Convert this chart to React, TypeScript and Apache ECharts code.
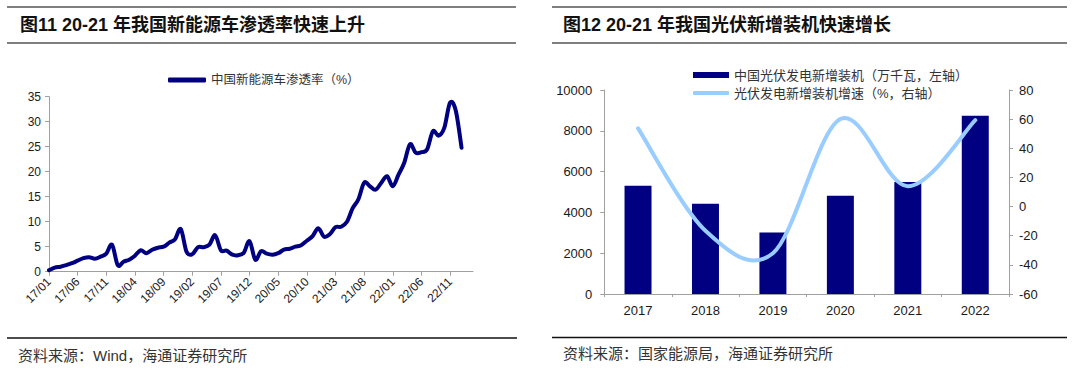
import React, { useEffect, useRef } from "react";
import * as echarts from "echarts";

const months = [
  "17/01","17/02","17/03","17/04","17/05","17/06","17/07","17/08","17/09","17/10","17/11","17/12",
  "18/01","18/02","18/03","18/04","18/05","18/06","18/07","18/08","18/09","18/10","18/11","18/12",
  "19/01","19/02","19/03","19/04","19/05","19/06","19/07","19/08","19/09","19/10","19/11","19/12",
  "20/01","20/02","20/03","20/04","20/05","20/06","20/07","20/08","20/09","20/10","20/11","20/12",
  "21/01","21/02","21/03","21/04","21/05","21/06","21/07","21/08","21/09","21/10","21/11","21/12",
  "22/01","22/02","22/03","22/04","22/05","22/06","22/07","22/08","22/09","22/10","22/11","22/12",
  "23/01","23/02","23/03"
];

const nevPenetration = [
  0.3, 0.8, 1.0, 1.3, 1.7, 2.2, 2.7, 2.9, 2.6, 3.0, 3.6, 5.4,
  1.3, 2.0, 2.4, 3.2, 4.3, 3.7, 4.4, 4.8, 5.0, 5.8, 6.5, 8.5,
  4.0, 3.5, 4.9, 4.9, 5.4, 7.3, 4.3, 4.2, 3.4, 3.3, 3.8, 6.1,
  2.4, 4.1, 3.6, 3.4, 3.7, 4.4, 4.6, 5.0, 5.3, 6.2, 7.1, 8.7,
  7.0, 7.5, 8.9, 9.0, 10.0, 12.7, 14.5, 17.8, 17.1, 16.4, 17.8, 19.1,
  17.1, 19.4, 21.8, 25.5, 23.8, 23.9, 24.5, 28.1, 27.2, 28.8, 33.8, 32.2,
  24.8, null, null
];

const pvYears = ["2017", "2018", "2019", "2020", "2021", "2022"];
const pvInstalled = [5306, 4426, 3011, 4820, 5488, 8741];
const pvGrowth = [53.6, -16.6, -32.0, 60.1, 13.9, 59.3];

const leftTitle = "图11 20-21 年我国新能源车渗透率快速上升";
const rightTitle = "图12 20-21 年我国光伏新增装机快速增长";
const leftSource = "资料来源：Wind，海通证券研究所";
const rightSource = "资料来源：国家能源局，海通证券研究所";
const nevName = "中国新能源车渗透率（%）";
const pvBarName = "中国光伏发电新增装机（万千瓦，左轴）";
const pvLineName = "光伏发电新增装机增速（%，右轴）";

const NAVY = "#000080";
const LIGHT = "#99ccff";
const AXIS = "#a0a0a0";
const LABEL = "#1a1a1a";
const NUM_FONT = "'Liberation Sans', Arial, 'Noto Sans CJK SC', sans-serif";
const CJK_FONT = "'Liberation Sans', 'Noto Sans CJK SC', sans-serif";

// Catmull-Rom style smoothing (like spreadsheet smoothed lines), through pixel points from the axis scales
function smoothPath(pts: number[][]): string {
  if (!pts.length) return "";
  let d = `M${pts[0][0]},${pts[0][1]}`;
  for (let i = 0; i < pts.length - 1; i++) {
    const p0 = pts[i - 1] || pts[i];
    const p1 = pts[i];
    const p2 = pts[i + 1];
    const p3 = pts[i + 2] || pts[i + 1];
    const c1x = p1[0] + (p2[0] - p0[0]) / 6;
    const c1y = p1[1] + (p2[1] - p0[1]) / 6;
    const c2x = p2[0] - (p3[0] - p1[0]) / 6;
    const c2y = p2[1] - (p3[1] - p1[1]) / 6;
    d += ` C${c1x},${c1y} ${c2x},${c2y} ${p2[0]},${p2[1]}`;
  }
  return d;
}

function makeRender(values: (number | null)[], color: string) {
  return (params: any, api: any) => {
    if (params.dataIndex !== 0) return null;
    const pts: number[][] = [];
    values.forEach((v, i) => {
      if (v !== null && v !== undefined) pts.push(api.coord([i, v]));
    });
    return {
      type: "path",
      shape: { pathData: smoothPath(pts) },
      style: { stroke: color, lineWidth: 4, fill: "none", lineCap: "round", lineJoin: "round" },
    };
  };
}

export default function App() {
  const ref = useRef<HTMLDivElement>(null);

  useEffect(() => {
    document.body.style.margin = "0";
    if (!ref.current) return;
    const chart = echarts.init(ref.current, undefined, { renderer: "svg" });

    const axisLine = { show: true, lineStyle: { color: AXIS, width: 1 } };
    const axisTick = { show: true, inside: false, length: 4, lineStyle: { color: AXIS } };

    chart.setOption({
      animation: false,
      backgroundColor: "#ffffff",
      legend: [
        {
          data: [{ name: nevName, icon: "roundRect", itemStyle: { color: NAVY } }],
          left: 163,
          top: 68,
          itemWidth: 38,
          itemHeight: 5,
          textStyle: { fontSize: 12.5, color: "#333", fontFamily: CJK_FONT, lineHeight: 14 },
        },
        {
          data: [{ name: pvBarName, icon: "rect" }],
          left: 688,
          top: 63,
          itemWidth: 36,
          itemHeight: 6,
          textStyle: { fontSize: 13, color: "#333", fontFamily: CJK_FONT, lineHeight: 14 },
        },
        {
          data: [{ name: pvLineName, icon: "roundRect", itemStyle: { color: LIGHT } }],
          left: 688,
          top: 81,
          itemWidth: 36,
          itemHeight: 4,
          textStyle: { fontSize: 13, color: "#333", fontFamily: CJK_FONT, lineHeight: 14 },
        },
      ],
      grid: [
        { left: 49, top: 96.7, width: 424, height: 175, containLabel: false },
        { left: 604.3, top: 90, width: 404.7, height: 204, containLabel: false },
      ],
      xAxis: [
        {
          type: "category",
          gridIndex: 0,
          data: months,
          boundaryGap: false,
          axisLine,
          axisTick: { ...axisTick, interval: 4 },
          axisLabel: {
            interval: 4,
            rotate: 45,
            margin: 8,
            fontSize: 12,
            color: LABEL,
            fontFamily: NUM_FONT,
          },
          splitLine: { show: false },
        },
        {
          type: "category",
          gridIndex: 1,
          data: pvYears,
          boundaryGap: true,
          axisLine,
          axisTick: { ...axisTick, length: 3 },
          axisLabel: { margin: 10, fontSize: 13, color: LABEL, fontFamily: NUM_FONT },
          splitLine: { show: false },
        },
      ],
      yAxis: [
        {
          type: "value",
          gridIndex: 0,
          min: 0,
          max: 35,
          interval: 5,
          axisLine,
          axisTick,
          axisLabel: { margin: 8, fontSize: 12, color: LABEL, fontFamily: NUM_FONT },
          splitLine: { show: false },
        },
        {
          type: "value",
          gridIndex: 1,
          min: 0,
          max: 10000,
          interval: 2000,
          axisLine,
          axisTick,
          axisLabel: {
            margin: 12,
            fontSize: 13,
            color: LABEL,
            fontFamily: NUM_FONT,
            formatter: (v: number) => String(v),
          },
          splitLine: { show: false },
        },
        {
          type: "value",
          gridIndex: 1,
          position: "right",
          min: -60,
          max: 80,
          interval: 20,
          axisLine,
          axisTick,
          axisLabel: { margin: 10, fontSize: 13, color: LABEL, fontFamily: NUM_FONT },
          splitLine: { show: false },
        },
      ],
      series: [
        {
          name: nevName,
          type: "custom",
          xAxisIndex: 0,
          yAxisIndex: 0,
          data: nevPenetration.map((v, i) => [i, v === null ? "-" : v]),
          encode: { x: 0, y: 1 },
          renderItem: makeRender(nevPenetration, NAVY),
          itemStyle: { color: NAVY },
          clip: false,
          z: 5,
        },
        {
          name: pvBarName,
          type: "bar",
          xAxisIndex: 1,
          yAxisIndex: 1,
          data: pvInstalled,
          barWidth: "40%",
          itemStyle: { color: NAVY },
        },
        {
          name: pvLineName,
          type: "custom",
          xAxisIndex: 1,
          yAxisIndex: 2,
          data: pvGrowth.map((v, i) => [i, v]),
          encode: { x: 0, y: 1 },
          renderItem: makeRender(pvGrowth, LIGHT),
          itemStyle: { color: LIGHT },
          clip: false,
          z: 5,
        },
      ],
      graphic: [
        { type: "line", shape: { x1: 7, y1: 7, x2: 516, y2: 7 }, style: { stroke: "#555", lineWidth: 1.5 } },
        { type: "line", shape: { x1: 7, y1: 43, x2: 516, y2: 43 }, style: { stroke: "#555", lineWidth: 1.5 } },
        { type: "line", shape: { x1: 552, y1: 7, x2: 1067, y2: 7 }, style: { stroke: "#555", lineWidth: 1.5 } },
        { type: "line", shape: { x1: 552, y1: 43, x2: 1067, y2: 43 }, style: { stroke: "#555", lineWidth: 1.5 } },
        { type: "line", shape: { x1: 7, y1: 338, x2: 517, y2: 338 }, style: { stroke: "#111", lineWidth: 1.5 } },
        { type: "line", shape: { x1: 552, y1: 337.5, x2: 1067, y2: 337.5 }, style: { stroke: "#111", lineWidth: 1.5 } },
        {
          type: "text",
          x: 20,
          y: 25,
          style: { text: leftTitle, fontSize: 18, fontWeight: "bold", fill: "#111", fontFamily: CJK_FONT, verticalAlign: "middle" },
        },
        {
          type: "text",
          x: 563,
          y: 25,
          style: { text: rightTitle, fontSize: 18, fontWeight: "bold", fill: "#111", fontFamily: CJK_FONT, verticalAlign: "middle" },
        },
        {
          type: "text",
          x: 18,
          y: 355,
          style: { text: leftSource, fontSize: 15, fill: "#333", fontFamily: CJK_FONT, verticalAlign: "middle" },
        },
        {
          type: "text",
          x: 563,
          y: 353.5,
          style: { text: rightSource, fontSize: 15, fill: "#333", fontFamily: CJK_FONT, verticalAlign: "middle" },
        },
      ],
    });

    return () => chart.dispose();
  }, []);

  return <div ref={ref} style={{ width: 1080, height: 371 }} />;
}
